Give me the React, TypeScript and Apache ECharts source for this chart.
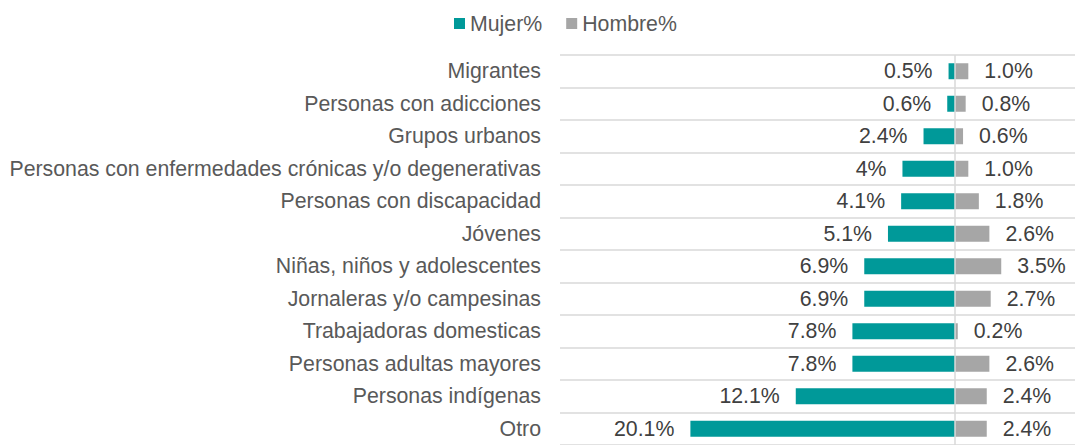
import React, { useEffect, useRef } from "react";
import * as echarts from "echarts";

const categories = [
  "Migrantes",
  "Personas con adicciones",
  "Grupos urbanos",
  "Personas con enfermedades crónicas y/o degenerativas",
  "Personas con discapacidad",
  "Jóvenes",
  "Niñas, niños y adolescentes",
  "Jornaleras y/o campesinas",
  "Trabajadoras domesticas",
  "Personas adultas mayores",
  "Personas indígenas",
  "Otro",
];
const mujer = [0.5, 0.6, 2.4, 4, 4.1, 5.1, 6.9, 6.9, 7.8, 7.8, 12.1, 20.1];
const hombre = [1.0, 0.8, 0.6, 1.0, 1.8, 2.6, 3.5, 2.7, 0.2, 2.6, 2.4, 2.4];

export default function App() {
  const ref = useRef<HTMLDivElement>(null);
  useEffect(() => {
    document.body.style.margin = "0";
    const chart = echarts.init(ref.current!, null, { renderer: "svg" });
    const font = "Liberation Sans, Arial, sans-serif";
    const fs = 21.3;
    chart.setOption({
      animation: false,
      textStyle: { fontFamily: font },
      legend: {
        top: 8,
        left: 449,
        itemWidth: 11,
        itemHeight: 11,
        itemGap: 24,
        textStyle: { fontSize: fs, color: "#595959", fontFamily: font },
        data: [
          { name: "Mujer%", icon: "rect" },
          { name: "Hombre%", icon: "rect" },
        ],
      },
      grid: { left: 560, right: 0, top: 55, bottom: -4, containLabel: false },
      xAxis: {
        type: "value",
        min: -30,
        max: 9.1,
        axisLine: { show: false },
        axisTick: { show: false },
        axisLabel: { show: false },
        splitLine: { show: false },
      },
      yAxis: {
        type: "category",
        inverse: true,
        data: categories,
        axisLine: { show: false },
        axisTick: { show: false },
        axisLabel: {
          interval: 0,
          margin: 19,
          fontSize: fs,
          color: "#595959",
          fontFamily: font,
        },
        splitLine: {
          show: true,
          interval: 0,
          lineStyle: { color: "#D9D9D9", width: 1.5 },
        },
      },
      series: [
        {
          name: "Mujer%",
          type: "bar",
          stack: "total",
          barWidth: 16,
          data: mujer.map((v) => -v),
          itemStyle: { color: "#009999" },
          label: {
            show: true,
            position: "left",
            distance: 16,
            fontSize: fs,
            color: "#404040",
            fontFamily: font,
            formatter: (p: any) => String(Math.abs(p.value)) + "%",
          },
          markLine: {
            silent: true,
            symbol: "none",
            label: { show: false },
            lineStyle: { color: "#D9D9D9", type: "solid", width: 1.5 },
            data: [{ xAxis: 0 }],
          },
        },
        {
          name: "Hombre%",
          type: "bar",
          stack: "total",
          barWidth: 16,
          data: hombre,
          itemStyle: { color: "#A6A6A6" },
          label: {
            show: true,
            position: "right",
            distance: 16,
            fontSize: fs,
            color: "#404040",
            fontFamily: font,
            formatter: (p: any) => p.value.toFixed(1) + "%",
          },
        },
      ],
    });
    return () => chart.dispose();
  }, []);
  return <div ref={ref} style={{ width: 1075, height: 445 }} />;
}
